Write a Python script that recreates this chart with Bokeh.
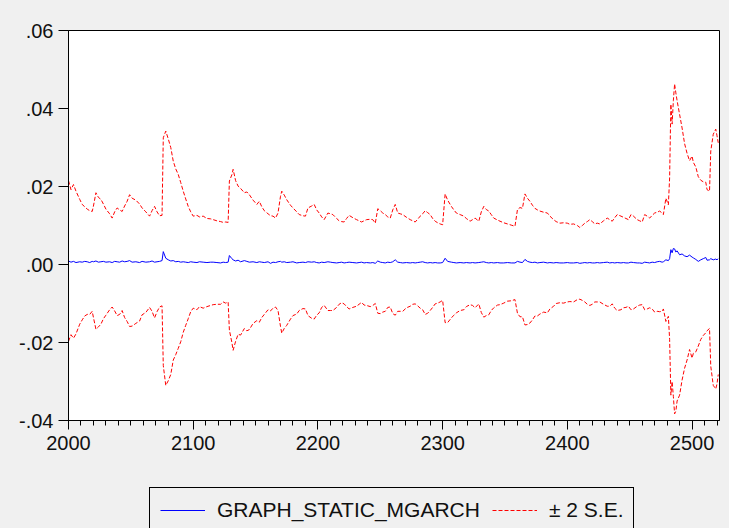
from bokeh.plotting import figure
from bokeh.layouts import column
from bokeh.models import FixedTicker, Legend, LegendItem, ColumnDataSource
from bokeh.embed import file_html
from bokeh.resources import INLINE

# observation index
obs = [
    2000, 2002, 2004, 2006, 2009, 2011, 2013, 2015, 2017, 2019,
    2020, 2022, 2024, 2026, 2028, 2030, 2033, 2035, 2037, 2039,
    2041, 2043, 2045, 2047, 2049, 2051, 2054, 2057, 2059, 2062,
    2065, 2067, 2069, 2071, 2073, 2075, 2076, 2078, 2080, 2082,
    2084, 2086, 2088, 2090, 2092, 2094, 2096, 2098, 2100, 2103,
    2105, 2108, 2111, 2114, 2116, 2119, 2122, 2124, 2126, 2128,
    2129, 2131, 2132, 2134, 2136, 2138, 2141, 2143, 2145, 2148,
    2151, 2153, 2155, 2157, 2160, 2162, 2164, 2166, 2168, 2170,
    2171, 2173, 2175, 2178, 2180, 2183, 2185, 2188, 2190, 2192,
    2195, 2197, 2199, 2201, 2203, 2205, 2208, 2210, 2212, 2215,
    2217, 2219, 2221, 2223, 2225, 2228, 2231, 2233, 2235, 2237,
    2239, 2242, 2244, 2246, 2248, 2250, 2252, 2254, 2256, 2258,
    2260, 2262, 2264, 2266, 2268, 2271, 2274, 2276, 2278, 2280,
    2282, 2284, 2286, 2288, 2290, 2292, 2294, 2296, 2298, 2300,
    2302, 2304, 2307, 2309, 2311, 2314, 2317, 2319, 2322, 2324,
    2326, 2329, 2331, 2333, 2335, 2337, 2339, 2341, 2344, 2346,
    2349, 2352, 2355, 2358, 2360, 2362, 2364, 2366, 2368, 2370,
    2372, 2374, 2376, 2378, 2381, 2384, 2386, 2389, 2391, 2394,
    2397, 2400, 2402, 2405, 2408, 2410, 2412, 2414, 2416, 2418,
    2420, 2422, 2424, 2426, 2429, 2432, 2434, 2436, 2438, 2440,
    2443, 2445, 2447, 2449, 2451, 2453, 2456, 2458, 2460, 2462,
    2464, 2466, 2468, 2470, 2472, 2474, 2476, 2477, 2479, 2481,
    2482, 2483, 2484, 2485, 2486, 2487, 2488, 2490, 2492, 2494,
    2496, 2498, 2500, 2501, 2503, 2505, 2507, 2509, 2511, 2512,
    2514, 2515, 2517, 2519, 2520, 2521,
]

# forecast (GRAPH_STATIC_MGARCH)
forecast = [
    0.0009, 0.0006, 0.0008, 0.0005, 0.0007, 0.0006, 0.0008, 0.0007, 0.0005, 0.0008,
    0.0007, 0.0009, 0.0006, 0.0007, 0.0008, 0.0006, 0.0007, 0.0005, 0.0008, 0.0007,
    0.0006, 0.0009, 0.0007, 0.0008, 0.0010, 0.0006, 0.0007, 0.0005, 0.0008, 0.0006,
    0.0007, 0.0009, 0.0006, 0.0007, 0.0008, 0.0010, 0.0033, 0.0016, 0.0012, 0.0009,
    0.0010, 0.0007, 0.0008, 0.0006, 0.0007, 0.0006, 0.0005, 0.0007, 0.0006, 0.0005,
    0.0007, 0.0006, 0.0005, 0.0006, 0.0006, 0.0005, 0.0004, 0.0006, 0.0005, 0.0006,
    0.0023, 0.0015, 0.0012, 0.0009, 0.0011, 0.0007, 0.0010, 0.0008, 0.0006, 0.0007,
    0.0005, 0.0007, 0.0006, 0.0005, 0.0007, 0.0003, 0.0006, 0.0005, 0.0007, 0.0008,
    0.0006, 0.0007, 0.0005, 0.0006, 0.0007, 0.0004, 0.0005, 0.0006, 0.0005, 0.0007,
    0.0006, 0.0007, 0.0005, 0.0004, 0.0006, 0.0005, 0.0007, 0.0006, 0.0005, 0.0004,
    0.0005, 0.0006, 0.0004, 0.0005, 0.0006, 0.0005, 0.0004, 0.0005, 0.0006, 0.0004,
    0.0005, 0.0004, 0.0005, 0.0003, 0.0009, 0.0006, 0.0005, 0.0004, 0.0006, 0.0005,
    0.0007, 0.0012, 0.0006, 0.0005, 0.0004, 0.0005, 0.0004, 0.0005, 0.0004, 0.0005,
    0.0006, 0.0007, 0.0005, 0.0004, 0.0005, 0.0004, 0.0005, 0.0004, 0.0004, 0.0005,
    0.0016, 0.0008, 0.0006, 0.0005, 0.0004, 0.0005, 0.0004, 0.0005, 0.0004, 0.0005,
    0.0004, 0.0005, 0.0006, 0.0007, 0.0005, 0.0004, 0.0005, 0.0004, 0.0005, 0.0004,
    0.0004, 0.0005, 0.0004, 0.0004, 0.0008, 0.0006, 0.0005, 0.0013, 0.0008, 0.0006,
    0.0005, 0.0006, 0.0004, 0.0005, 0.0006, 0.0004, 0.0005, 0.0004, 0.0005, 0.0004,
    0.0004, 0.0005, 0.0004, 0.0004, 0.0005, 0.0003, 0.0004, 0.0005, 0.0004, 0.0005,
    0.0004, 0.0004, 0.0005, 0.0004, 0.0005, 0.0006, 0.0004, 0.0005, 0.0004, 0.0005,
    0.0004, 0.0005, 0.0004, 0.0004, 0.0006, 0.0005, 0.0004, 0.0004, 0.0003, 0.0006,
    0.0005, 0.0004, 0.0006, 0.0005, 0.0007, 0.0008, 0.0006, 0.0007, 0.0012, 0.0010,
    0.0015, 0.0038, 0.0030, 0.0041, 0.0040, 0.0032, 0.0035, 0.0025, 0.0027, 0.0022,
    0.0020, 0.0024, 0.0019, 0.0017, 0.0013, 0.0008, 0.0012, 0.0015, 0.0018, 0.0011,
    0.0012, 0.0015, 0.0012, 0.0014, 0.0012, 0.0015,
]

# upper band: forecast + 2 S.E.
upper_band = [
    0.0215, 0.0192, 0.0205, 0.0188, 0.0167, 0.0154, 0.0148, 0.0142, 0.0138, 0.0136,
    0.0150, 0.0184, 0.0172, 0.0167, 0.0155, 0.0142, 0.0130, 0.0119, 0.0135, 0.0145,
    0.0140, 0.0136, 0.0150, 0.0162, 0.0179, 0.0170, 0.0165, 0.0155, 0.0145, 0.0135,
    0.0124, 0.0138, 0.0149, 0.0135, 0.0125, 0.0126, 0.0325, 0.0342, 0.0322, 0.0300,
    0.0265, 0.0245, 0.0231, 0.0210, 0.0188, 0.0168, 0.0149, 0.0135, 0.0124, 0.0126,
    0.0122, 0.0124, 0.0118, 0.0117, 0.0115, 0.0112, 0.0110, 0.0108, 0.0109, 0.0108,
    0.0214, 0.0230, 0.0244, 0.0215, 0.0201, 0.0195, 0.0184, 0.0186, 0.0179, 0.0165,
    0.0154, 0.0162, 0.0148, 0.0138, 0.0130, 0.0125, 0.0124, 0.0119, 0.0132, 0.0175,
    0.0188, 0.0178, 0.0166, 0.0152, 0.0145, 0.0135, 0.0128, 0.0125, 0.0124, 0.0145,
    0.0150, 0.0154, 0.0140, 0.0132, 0.0122, 0.0115, 0.0132, 0.0130, 0.0128, 0.0118,
    0.0112, 0.0110, 0.0109, 0.0118, 0.0126, 0.0120, 0.0115, 0.0112, 0.0109, 0.0112,
    0.0115, 0.0116, 0.0115, 0.0106, 0.0143, 0.0138, 0.0132, 0.0128, 0.0122, 0.0119,
    0.0140, 0.0154, 0.0132, 0.0130, 0.0128, 0.0121, 0.0115, 0.0112, 0.0109, 0.0116,
    0.0124, 0.0130, 0.0138, 0.0133, 0.0128, 0.0118, 0.0111, 0.0107, 0.0104, 0.0102,
    0.0181, 0.0165, 0.0149, 0.0140, 0.0132, 0.0128, 0.0124, 0.0118, 0.0111, 0.0115,
    0.0119, 0.0111, 0.0135, 0.0149, 0.0141, 0.0137, 0.0128, 0.0119, 0.0114, 0.0111,
    0.0107, 0.0104, 0.0101, 0.0098, 0.0141, 0.0146, 0.0144, 0.0181, 0.0170, 0.0162,
    0.0152, 0.0144, 0.0140, 0.0137, 0.0134, 0.0132, 0.0124, 0.0115, 0.0110, 0.0106,
    0.0107, 0.0106, 0.0103, 0.0104, 0.0100, 0.0095, 0.0100, 0.0106, 0.0110, 0.0115,
    0.0110, 0.0104, 0.0106, 0.0104, 0.0112, 0.0119, 0.0115, 0.0111, 0.0120, 0.0128,
    0.0124, 0.0121, 0.0118, 0.0115, 0.0128, 0.0124, 0.0115, 0.0112, 0.0109, 0.0128,
    0.0124, 0.0119, 0.0126, 0.0132, 0.0134, 0.0137, 0.0132, 0.0128, 0.0170, 0.0153,
    0.0222, 0.0411, 0.0360, 0.0420, 0.0463, 0.0440, 0.0420, 0.0385, 0.0350, 0.0310,
    0.0285, 0.0266, 0.0278, 0.0262, 0.0250, 0.0225, 0.0216, 0.0212, 0.0211, 0.0192,
    0.0188, 0.0291, 0.0334, 0.0347, 0.0330, 0.0312,
]

y_ticks = [-0.04, -0.02, 0.0, 0.02, 0.04, 0.06]
y_labels = ["-.04", "-.02", ".00", ".02", ".04", ".06"]
x_ticks = [2000, 2100, 2200, 2300, 2400, 2500]
legend_labels = ["GRAPH_STATIC_MGARCH", "± 2 S.E."]

# lower band mirrors the upper band around the forecast (forecast - 2 S.E.)
lower_band = [2 * f - u for f, u in zip(forecast, upper_band)]

src = ColumnDataSource(dict(x=obs, f=forecast, up=upper_band, lo=lower_band))

BG = "#f0f0f0"
FONT = "Liberation Sans"
BLUE = "#0000ff"
RED = "#ff0000"
DASH = "4 2"

p = figure(frame_width=651, frame_height=390, output_backend="svg",
           toolbar_location=None, x_range=(2000, 2522), y_range=(-0.04, 0.06),
           min_border_left=68, min_border_right=10, min_border_top=30,
           min_border_bottom=50)
p.border_fill_color = BG
p.background_fill_color = "white"
p.outline_line_color = "black"
p.outline_line_width = 1
p.xgrid.visible = False
p.ygrid.visible = False

p.line("x", "up", source=src, line_color=RED, line_width=1, line_dash=DASH)
p.line("x", "lo", source=src, line_color=RED, line_width=1, line_dash=DASH)
p.line("x", "f", source=src, line_color=BLUE, line_width=1)

p.yaxis.ticker = FixedTicker(ticks=y_ticks, minor_ticks=[])
p.yaxis.major_label_overrides = {t: l for t, l in zip(y_ticks, y_labels)}
p.xaxis.ticker = FixedTicker(ticks=x_ticks, minor_ticks=list(range(2000, 2523, 10)))

for ax in (p.xaxis[0], p.yaxis[0]):
    ax.axis_line_color = "black"
    ax.major_tick_line_color = "black"
    ax.minor_tick_line_color = "black"
    ax.major_tick_in = 0
    ax.minor_tick_in = 0
    ax.major_label_text_font = FONT
    ax.major_label_text_font_size = "20px"
    ax.major_label_text_color = "#111111"
p.yaxis.major_tick_out = 10
p.yaxis.major_label_standoff = 5
p.xaxis.major_tick_out = 9
p.xaxis.minor_tick_out = 5
p.xaxis.major_label_standoff = 6

# legend strip below the chart (key lines sit outside its visible range)
lg = figure(width=729, height=58, output_backend="svg", toolbar_location=None,
            x_range=(0, 1), y_range=(0, 1), x_axis_location=None,
            y_axis_location=None, min_border=0)
lg.border_fill_color = BG
lg.background_fill_color = BG
lg.outline_line_color = None
lg.xgrid.visible = False
lg.ygrid.visible = False
k_f = lg.line(x=[5, 6], y=[5, 6], line_color=BLUE, line_width=1)
k_se = lg.line(x=[5, 6], y=[5, 6], line_color=RED, line_width=1, line_dash=DASH)

legend = Legend(items=[LegendItem(label=legend_labels[0], renderers=[k_f]),
                       LegendItem(label=legend_labels[1], renderers=[k_se])],
                orientation="horizontal", location=(81, -5))
legend.label_text_font = FONT
legend.label_text_font_size = "21px"
legend.label_text_color = "#111111"
legend.glyph_width = 45
legend.label_standoff = 12
legend.spacing = 12
legend.padding = 10
legend.margin = 0
legend.border_line_color = "black"
legend.border_line_alpha = 1.0
legend.border_line_width = 1
legend.background_fill_color = BG
legend.background_fill_alpha = 1.0
lg.add_layout(legend, "center")

page = column(p, lg, spacing=0)
page.background = BG

open("out.html", "w").write(file_html(page, INLINE))
